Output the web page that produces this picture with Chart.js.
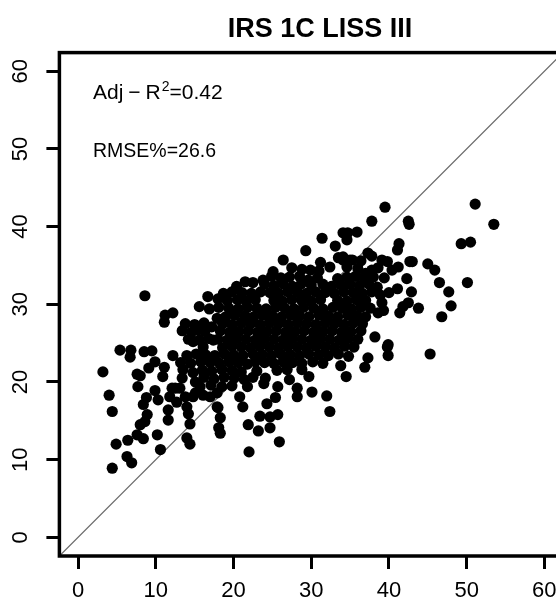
<!DOCTYPE html>
<html>
<head>
<meta charset="utf-8">
<style>
  html, body { margin: 0; padding: 0; overflow: hidden; background: #fff; }
</style>
<script src="https://cdn.jsdelivr.net/npm/chart.js"></script>
</head>
<body>
<canvas id="scatter" width="570" height="603"></canvas>
<script>
// tick labels
var xTicks = [0, 10, 20, 30, 40, 50, 60];
var yTicks = [0, 10, 20, 30, 40, 50, 60];

// 1:1 reference line
var oneToOne = [-10, 70];

var leftPts = [
  [3.2,21.3],[4.0,18.3],[4.4,16.2],[4.9,12.0],[4.4,8.9],[6.3,10.4],[6.9,9.6],[5.4,24.1],
  [6.8,24.1],[6.7,23.2],[8.5,23.9],[9.5,24.0],[12.2,23.4],[9.9,22.6],[9.1,21.8],[11.1,21.9],
  [7.6,21.0],[8.0,20.8],[10.9,20.7],[7.7,19.4],[9.9,18.9],[12.1,19.2],[12.5,19.2],[8.8,18.0],
  [10.3,17.7],[11.8,18.1],[8.4,17.1],[8.9,15.8],[8.6,14.9],[8.0,14.5],[11.6,16.4],[11.6,15.1],
  [10.2,13.2],[6.4,12.5],[7.6,13.2],[8.4,12.7],[10.6,11.3],[12.7,17.4],[8.6,31.1],[11.2,28.6],
  [12.2,28.9],[11.1,27.7]
];

var midLeftPts = [
  [14.2,15.9],[14.4,14.6],[14.0,12.8],[14.4,12.0],[13.4,20.5],[14.8,21.2],[15.1,20.0],[13.1,19.2],
  [13.8,18.1],[15.1,18.6],[16.1,18.3],[17.0,18.1],[18.0,16.7],[18.3,15.4],[18.1,14.1],[18.3,13.4],
  [13.4,26.6],[15.4,26.7],[17.2,27.1],[15.6,29.7],[16.7,31.0],[18.0,30.7],[17.9,28.2],[15.7,19.4],
  [14.8,18.1],[14.0,16.8],[17.9,18.6],[17.9,16.8],[21.8,19.4],[20.8,18.1],[21.2,16.8],
  [14.8,25.2],[16.1,24.5],[17.4,25.4]
];

var lowerPts = [
  [22.0,11.0],[25.9,12.3],[21.9,14.5],[23.2,13.7],[23.4,15.6],[24.7,15.5],[25.7,15.8],[24.7,14.1],
  [24.3,17.2],[25.4,18.0],[23.9,19.8],[25.7,19.4],[27.2,20.3],[28.2,19.2],[28.2,18.1],[28.8,21.6],
  [29.7,20.7],[30.1,18.7],[32.0,18.2],[32.4,16.2],[33.8,22.1],[34.5,20.7],[36.9,21.9]
];

var rightPts = [
  [39.5,42.5],[37.8,40.7],[42.5,40.7],[42.6,40.3],[51.1,42.9],[53.5,40.3],[49.3,37.8],[50.5,38.0],
  [41.3,37.8],[41.1,37.0],[43.0,35.5],[45.0,35.2],[45.9,34.4],[46.5,32.8],[47.7,31.6],[50.1,32.8],
  [48.0,29.8],[46.8,28.4],[43.8,29.5],[42.3,33.3],[42.9,31.6],[41.1,32.0],[42.5,30.2],[39.1,30.2],
  [38.6,28.9],[37.3,36.6],[39.1,35.7],[39.8,35.5],[37.8,34.4],[38.6,34.7],[40.4,34.4],[41.2,34.8],
  [45.3,23.6],[39.9,24.8],[39.9,23.4],[37.3,23.1],[38.2,25.8],[41.4,28.9],[41.8,29.7],
  [42.7,35.5],[37.8,36.2],[39.8,24.5]
];

var topPts = [
  [31.4,38.5],[29.3,36.9],[33.1,37.5],[34.1,39.2],[34.7,39.2],[35.9,39.3],[34.6,38.3],[26.4,35.7],
  [25.1,34.2],[27.5,34.7],[29.9,34.4],[29.6,33.1],[32.4,34.8],[33.5,36.0],[34.1,35.7],[35.3,35.7],
  [21.5,32.9],[22.5,32.8],[23.8,33.1],[34.1,36.1],[35.0,35.7],[34.6,34.8],[31.2,35.4],[36.4,35.6]
];

var corePts = [
  [28.8,34.5],[31.0,34.3],[36.0,34.6],[37.0,34.0],
  [24.9,33.6],[26.1,33.4],[27.2,33.5],[28.5,33.6],[30.8,33.4],[33.4,33.3],[34.6,33.5],[35.7,33.6],
  [36.8,33.4],[38.0,33.5],[39.4,33.4],
  [20.4,32.3],[24.0,32.6],[25.2,32.4],[26.4,32.6],[27.6,32.3],[28.7,32.6],[30.0,32.5],[31.5,32.6],
  [32.6,32.3],[33.8,32.5],[35.0,32.6],[36.2,32.4],[37.4,32.6],[38.5,32.2],
  [18.7,31.4],[19.8,31.6],[21.1,31.5],[22.3,31.4],[23.5,31.6],[24.7,31.5],[25.8,31.4],[27.0,31.6],
  [28.3,31.5],[29.4,31.4],[30.6,31.6],[31.8,31.5],[33.0,31.4],[34.2,31.6],[35.4,31.5],[36.6,31.4],
  [37.8,31.6],[38.9,31.2],[40.0,31.5],
  [19.2,30.5],[20.5,30.6],[21.6,30.4],[22.8,30.6],[25.2,30.5],[26.3,30.4],[27.5,30.6],[28.8,30.5],
  [30.0,30.4],[31.2,30.6],[33.4,30.5],[34.6,30.4],[35.8,30.6],[37.0,30.5],
  [16.9,29.4],[18.1,29.6],[19.4,29.5],[20.6,29.4],[21.8,29.6],[23.0,29.5],[24.2,29.4],[25.4,29.6],
  [26.6,29.5],[27.8,29.4],[29.0,29.6],[30.3,29.5],[31.5,29.4],[32.8,29.6],[34.0,29.5],[35.2,29.4],
  [36.4,29.6],[37.6,29.5],[39.3,29.2],
  [19.0,28.4],[20.2,28.6],[21.5,28.5],[22.6,28.4],[23.8,28.6],[25.0,28.5],[26.2,28.4],[27.4,28.6],
  [28.5,28.5],[29.7,28.4],[31.0,28.6],[32.2,28.5],[33.4,28.4],[34.7,28.6],[35.9,28.5],[37.0,28.4],
  [13.8,27.5],[15.0,27.4],[16.2,27.6],[18.6,27.5],[19.8,27.4],[21.0,27.6],[22.2,27.5],[23.4,27.4],
  [24.6,27.6],[25.8,27.5],[27.0,27.4],[28.2,27.6],[29.4,27.5],[30.6,27.4],[31.8,27.6],[33.0,27.5],
  [34.2,27.4],[35.4,27.6],[36.6,27.5],
  [14.6,26.4],[16.3,26.5],[18.3,26.6],[19.5,26.4],[20.7,26.5],[21.9,26.6],[23.1,26.4],[24.3,26.5],
  [25.5,26.6],[26.7,26.4],[27.9,26.5],[29.1,26.6],[30.3,26.4],[31.5,26.5],[32.7,26.6],[33.9,26.4],
  [35.1,26.5],[36.4,26.6],
  [14.2,25.5],[15.6,25.4],[16.8,25.6],[18.0,25.5],[19.2,25.4],[20.4,25.6],[21.6,25.5],[22.8,25.4],
  [24.0,25.6],[25.2,25.5],[26.4,25.4],[27.6,25.6],[28.8,25.5],[30.0,25.4],[31.2,25.6],[32.4,25.5],
  [33.6,25.4],[34.8,25.6],[36.0,25.5],
  [18.6,24.4],[19.8,24.6],[21.0,24.5],[22.2,24.4],[23.4,24.6],[24.6,24.5],[25.8,24.4],[27.0,24.6],
  [28.2,24.5],[29.4,24.4],[30.6,24.6],[31.8,24.5],[33.0,24.4],[34.3,24.6],[35.5,24.5],
  [14.0,23.4],[15.2,23.6],[16.4,23.5],[17.6,23.4],[18.8,23.6],[20.0,23.5],[21.2,23.4],[22.5,23.6],
  [23.7,23.5],[24.9,23.4],[26.1,23.6],[27.3,23.5],[28.5,23.4],[29.7,23.6],[31.0,23.5],[32.2,23.4],
  [33.5,23.6],[34.8,23.3],
  [13.2,22.5],[14.5,22.4],[15.8,22.6],[17.0,22.5],[18.2,22.4],[19.4,22.6],[20.6,22.5],[21.8,22.3],
  [22.8,22.6],[24.0,22.5],[25.2,22.4],[26.4,22.6],[27.6,22.5],[28.8,22.4],[30.2,22.6],[31.5,22.4],
  [13.5,21.6],[16.0,21.5],[17.2,21.4],[18.5,21.6],[19.8,21.5],[21.0,21.3],[23.0,21.4],[25.6,21.5],
  [26.9,21.6],
  [16.2,20.6],[17.5,20.4],[18.8,20.6],[20.1,20.5],[21.4,20.3],[22.5,20.6],[24.1,20.5],
  [17.1,19.6],[18.5,19.4],[19.8,19.5]
];

var allPts = leftPts.concat(midLeftPts, lowerPts, rightPts, topPts, corePts)
  .map(function (p) { return { x: p[0], y: p[1] }; });

var titleText = 'IRS 1C LISS III';

var fontFamily = '"Liberation Sans", Arial, Helvetica, sans-serif';
Chart.defaults.font.family = fontFamily;
Chart.defaults.color = '#000';

// title, frame round the plot and the two statistics
var framePlugin = {
  id: 'frame',
  afterDraw: function (chart) {
    var ctx = chart.ctx;
    var a = chart.chartArea;
    ctx.save();
    ctx.strokeStyle = '#000';
    ctx.lineWidth = 3.5;
    ctx.strokeRect(a.left, a.top, a.right - a.left, a.bottom - a.top);

    ctx.fillStyle = '#000';
    ctx.textBaseline = 'alphabetic';
    ctx.textAlign = 'center';
    ctx.font = 'bold 27px ' + fontFamily;
    ctx.fillText(titleText, 320, 37);

    ctx.textAlign = 'left';
    var x = a.left + 33.6;
    var y = a.top + 46.7;
    ctx.font = '21px ' + fontFamily;
    ctx.fillText('Adj', x, y);
    x += ctx.measureText('Adj').width + 5;
    ctx.fillText('\u2212', x, y);
    x += ctx.measureText('\u2212').width + 5;
    ctx.fillText('R', x, y);
    x += ctx.measureText('R').width + 1;
    ctx.font = '14px ' + fontFamily;
    ctx.fillText('2', x, y - 8.5);
    x += ctx.measureText('2').width;
    ctx.font = '21px ' + fontFamily;
    ctx.fillText('=0.42', x, y);

    ctx.font = '19.5px ' + fontFamily;
    ctx.fillText('RMSE%=26.6', a.left + 33.6, a.top + 104);
    ctx.restore();
  }
};

new Chart(document.getElementById('scatter'), {
  type: 'scatter',
  data: {
    datasets: [
      {
        data: allPts,
        backgroundColor: '#000',
        borderWidth: 0,
        pointRadius: 5.6,
        pointHoverRadius: 5.6
      },
      {
        type: 'line',
        data: oneToOne.map(function (v) { return { x: v, y: v }; }),
        borderColor: '#6a6a6a',
        borderWidth: 1.2,
        pointRadius: 0,
        showLine: true
      }
    ]
  },
  options: {
    responsive: false,
    animation: false,
    layout: { padding: { top: 52.6, right: 7 } },
    plugins: {
      legend: { display: false },
      tooltip: { enabled: false },
      title: { display: false }
    },
    scales: {
      x: {
        type: 'linear',
        min: -2.4,
        max: 62.4,
        afterBuildTicks: function (s) { s.ticks = xTicks.map(function (v) { return { value: v }; }); },
        afterFit: function (s) { s.height = 47; },
        border: { display: false },
        grid: { drawOnChartArea: false, drawTicks: true, tickLength: 13, lineWidth: 3, color: '#000' },
        ticks: { autoSkip: false, maxRotation: 0, padding: 9, color: '#000', font: { size: 22 } }
      },
      y: {
        type: 'linear',
        min: -2.4,
        max: 62.4,
        afterBuildTicks: function (s) { s.ticks = yTicks.map(function (v) { return { value: v }; }); },
        afterFit: function (s) { s.width = 59.4; },
        border: { display: false },
        grid: { drawOnChartArea: false, drawTicks: true, tickLength: 13, lineWidth: 3, color: '#000' },
        ticks: {
          autoSkip: false, minRotation: 90, maxRotation: 90, crossAlign: 'center',
          padding: 13, color: '#000', font: { size: 22 }
        }
      }
    }
  },
  plugins: [framePlugin]
});
</script>
</body>
</html>
